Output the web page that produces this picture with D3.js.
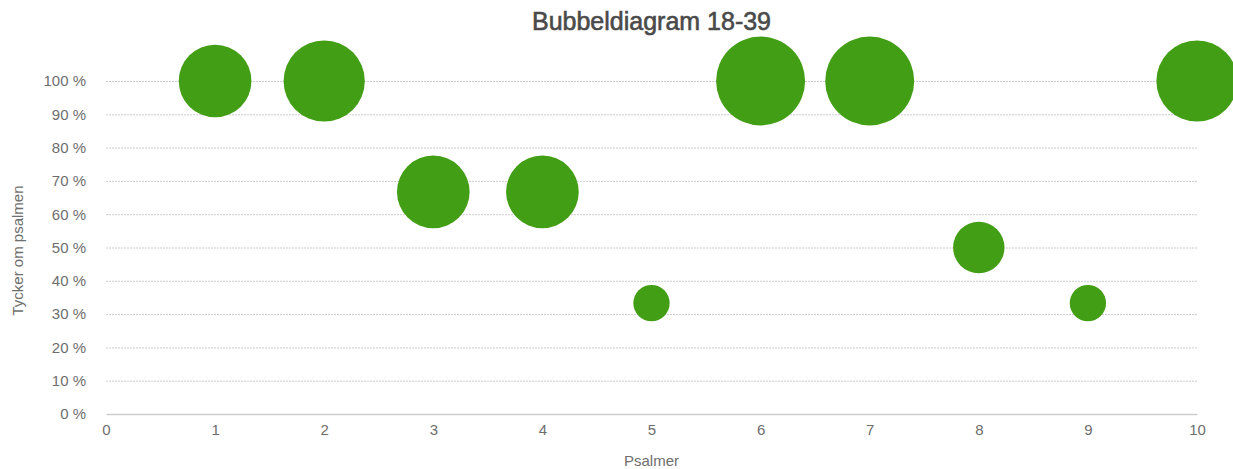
<!DOCTYPE html>
<html>
<head>
<meta charset="utf-8">
<script src="https://cdn.jsdelivr.net/npm/d3@7"></script>
<style>
  html, body { margin: 0; padding: 0; background: #fff; }
  svg { display: block; font-family: "Liberation Sans", Arial, Helvetica, sans-serif; }
</style>
</head>
<body>
<svg id="chart" width="1233" height="469"></svg>
<script>
const title = "Bubbeldiagram 18-39";
const xTitle = "Psalmer";
const yTitle = "Tycker om psalmen";
const psalms = [1, 2, 3, 4, 5, 6, 7, 8, 9, 10];
const percent = [100, 100, 66.7, 66.7, 33.3, 100, 100, 50, 33.3, 100];
const sizes = [4, 5, 4, 4, 1, 6, 6, 2, 1, 5];
const xTicks = [0, 1, 2, 3, 4, 5, 6, 7, 8, 9, 10];
const yTicks = [0, 10, 20, 30, 40, 50, 60, 70, 80, 90, 100];

(function () {
const svg = d3.select("#chart");
const mLeft = 106, mRight = 1197, mTop = 81, mBottom = 414;

const x = d3.scaleLinear().domain([0, 10]).range([mLeft, mRight]);
const y = d3.scaleLinear().domain([0, 100]).range([mBottom, mTop]);
const r = d3.scaleSqrt().domain([0, 6]).range([0, 44.5]);

// gridlines
svg.append("g").selectAll("line").data(yTicks.filter(d => d > 0)).join("line")
  .attr("x1", mLeft).attr("x2", mRight)
  .attr("y1", d => y(d) + 0.5).attr("y2", d => y(d) + 0.5)
  .attr("stroke", "#cccccc").attr("stroke-width", 1)
  .attr("stroke-dasharray", "2,1");

// y axis labels
const yAxis = d3.axisLeft(y).tickValues(yTicks).tickFormat(d => d + " %").tickSize(0).tickPadding(20);
const gy = svg.append("g").attr("transform", `translate(${mLeft},0)`).call(yAxis);
gy.select(".domain").remove();
gy.selectAll("text").attr("font-size", 15).attr("fill", "#6e6e6e")
  .attr("font-family", "'Liberation Sans', Arial, sans-serif");

// x axis
const xAxis = d3.axisBottom(x).tickValues(xTicks).tickFormat(d3.format("d")).tickSize(0).tickPadding(10);
const gx = svg.append("g").attr("transform", `translate(0,${mBottom})`).call(xAxis);
gx.select(".domain").attr("stroke", "#cfcfcf").attr("stroke-width", 1.5);
gx.selectAll("text").attr("font-size", 15).attr("fill", "#6e6e6e")
  .attr("font-family", "'Liberation Sans', Arial, sans-serif");

// bubbles
svg.append("g").selectAll("circle").data(psalms).join("circle")
  .attr("cx", (d, i) => x(d))
  .attr("cy", (d, i) => y(percent[i]))
  .attr("r", (d, i) => r(sizes[i]))
  .attr("fill", "#429e14");

// title
svg.append("text").attr("x", (mLeft + mRight) / 2).attr("y", 30)
  .attr("text-anchor", "middle").attr("font-size", 25)
  .attr("fill", "#4a4a4a").attr("stroke", "#4a4a4a").attr("stroke-width", 0.6)
  .text(title);

// axis titles
svg.append("text").attr("x", (mLeft + mRight) / 2).attr("y", 466)
  .attr("text-anchor", "middle").attr("font-size", 15).attr("fill", "#6e6e6e")
  .text(xTitle);
svg.append("text").attr("transform", `translate(23,${(mTop + mBottom) / 2 + 3}) rotate(-90)`)
  .attr("text-anchor", "middle").attr("font-size", 15).attr("fill", "#6e6e6e")
  .text(yTitle);
})();
</script>
</body>
</html>
